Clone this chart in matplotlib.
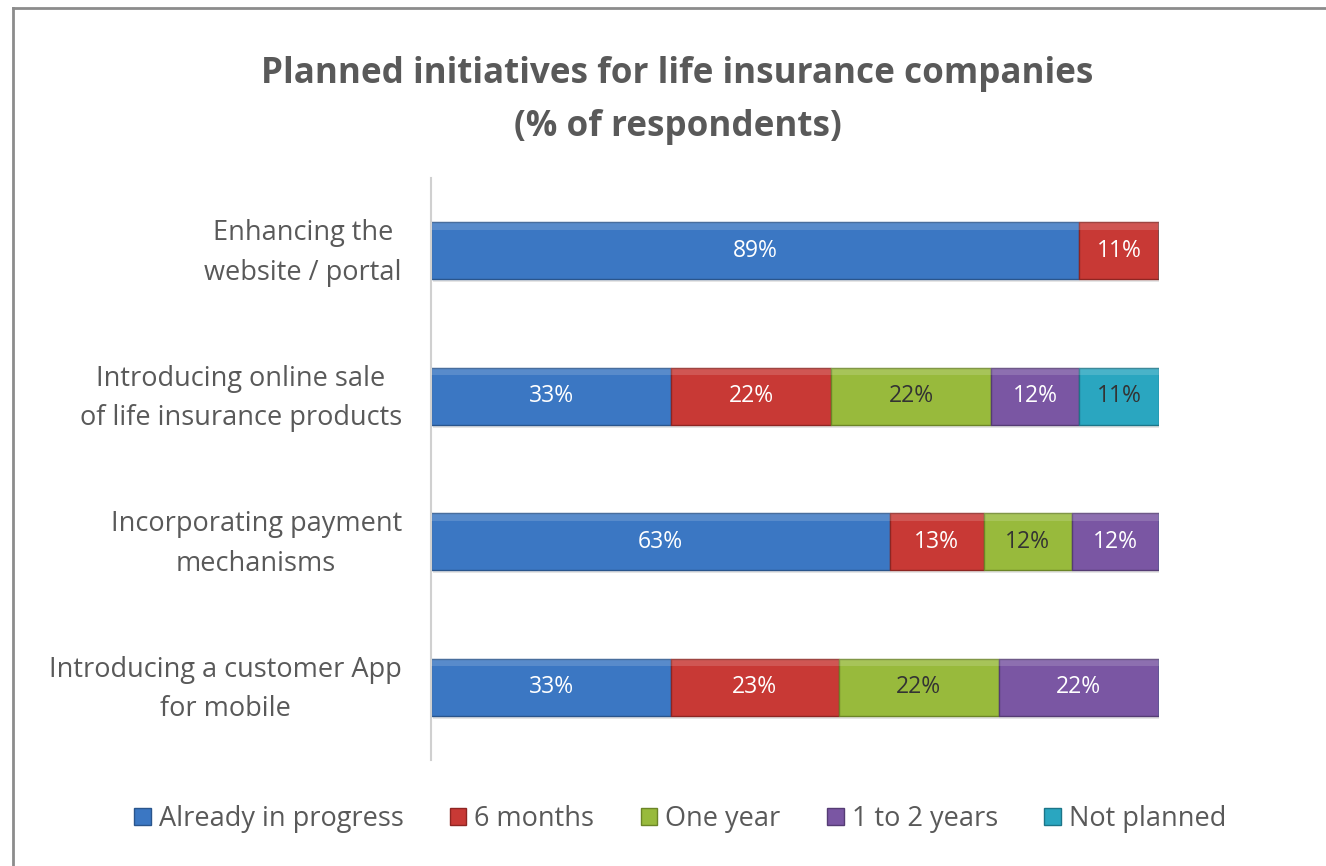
import numpy as np
import matplotlib.pyplot as plt
import matplotlib.transforms as mtransforms
from matplotlib.lines import Line2D
from matplotlib.patches import Rectangle

# Data (top to bottom as in the chart)
categories = ["Enhancing the\nwebsite / portal",
              "Introducing online sale\nof life insurance products",
              "Incorporating payment\nmechanisms",
              "Introducing a customer App\nfor mobile"]
series_names = ["Already in progress", "6 months", "One year", "1 to 2 years", "Not planned"]
already = [89, 33, 63, 33]
six_months = [11, 22, 13, 23]
one_year = [0, 22, 12, 22]
one_two_years = [0, 12, 12, 22]
not_planned = [0, 11, 0, 0]

colors = ["#3B77C3", "#C83935", "#98BA3C", "#7A56A3", "#2AA6C0"]
edge_colors = ["#2A558C", "#8E2522", "#6B8527", "#553C74", "#1C7588"]
label_colors = ["white", "white", "#333333", "white", "#333333"]

plt.rcParams['font.family'] = ['Open Sans', 'DejaVu Sans']
text_gray = "#595959"

fig = plt.figure(figsize=(13.26, 8.66), dpi=100)
ax = fig.add_axes([0.325, 0.1224, 0.549, 0.672])

values = [already, six_months, one_year, one_two_years, not_planned]
y = np.arange(len(categories))
left = np.zeros(len(categories))
bar_h = 0.39
for vals, col, ec, lc in zip(values, colors, edge_colors, label_colors):
    vals = np.array(vals, dtype=float)
    # soft shadow
    ax.barh(y + 0.02, vals, left=left + 0.25, height=bar_h, color="#000000", alpha=0.10, zorder=1)
    ax.barh(y, vals, left=left, height=bar_h, color=col, edgecolor=ec, linewidth=1.0, zorder=2)
    # bevel highlight at the top edge
    ax.barh(y - bar_h / 2 + 0.025, vals, left=left, height=0.05, color="white", alpha=0.15,
            linewidth=0, zorder=3)
    for i, v in enumerate(vals):
        if v > 0:
            ax.text(left[i] + v / 2, y[i], f"{int(v)}%", ha="center", va="center",
                    color=lc, fontsize=16.5, zorder=4)
    left += vals

ax.set_xlim(0, 100)
ax.set_ylim(len(categories) - 0.5, -0.5)
ax.set_yticks(y)
ax.set_yticklabels(categories, fontsize=19.5, color=text_gray, multialignment="center",
                   linespacing=1.55)
ax.tick_params(axis="y", length=0, pad=21)
# nudge category labels up a little
shift = mtransforms.ScaledTranslation(0, 7 / 100, fig.dpi_scale_trans)
for lbl in ax.get_yticklabels():
    lbl.set_transform(lbl.get_transform() + shift)
ax.set_xticks([])
for s in ["top", "right", "bottom"]:
    ax.spines[s].set_visible(False)
ax.spines["left"].set_color("#D0D0D0")
ax.spines["left"].set_linewidth(1.5)

fig.text(0.511, 0.884, "Planned initiatives for life insurance companies\n(% of respondents)",
         ha="center", va="center", fontsize=25.2, fontweight="bold", color=text_gray,
         linespacing=1.6)

handles = [Rectangle((0, 0), 1, 1, facecolor=c, edgecolor=e, linewidth=1) for c, e in zip(colors, edge_colors)]
fig.legend(handles, series_names, loc="center", bbox_to_anchor=(0.513, 0.054), ncol=5,
           frameon=False, fontsize=19.5, labelcolor=text_gray, handlelength=0.6, handleheight=0.6,
           handletextpad=0.3, columnspacing=1.72)

# outer chart frame
fig.add_artist(Line2D([13 / 1326, 1], [1 - 8 / 866, 1 - 8 / 866], color="#8C8C8C", lw=2))
fig.add_artist(Line2D([13 / 1326, 13 / 1326], [0, 1 - 8 / 866], color="#8C8C8C", lw=2))

fig.savefig("out.png", dpi=100)
